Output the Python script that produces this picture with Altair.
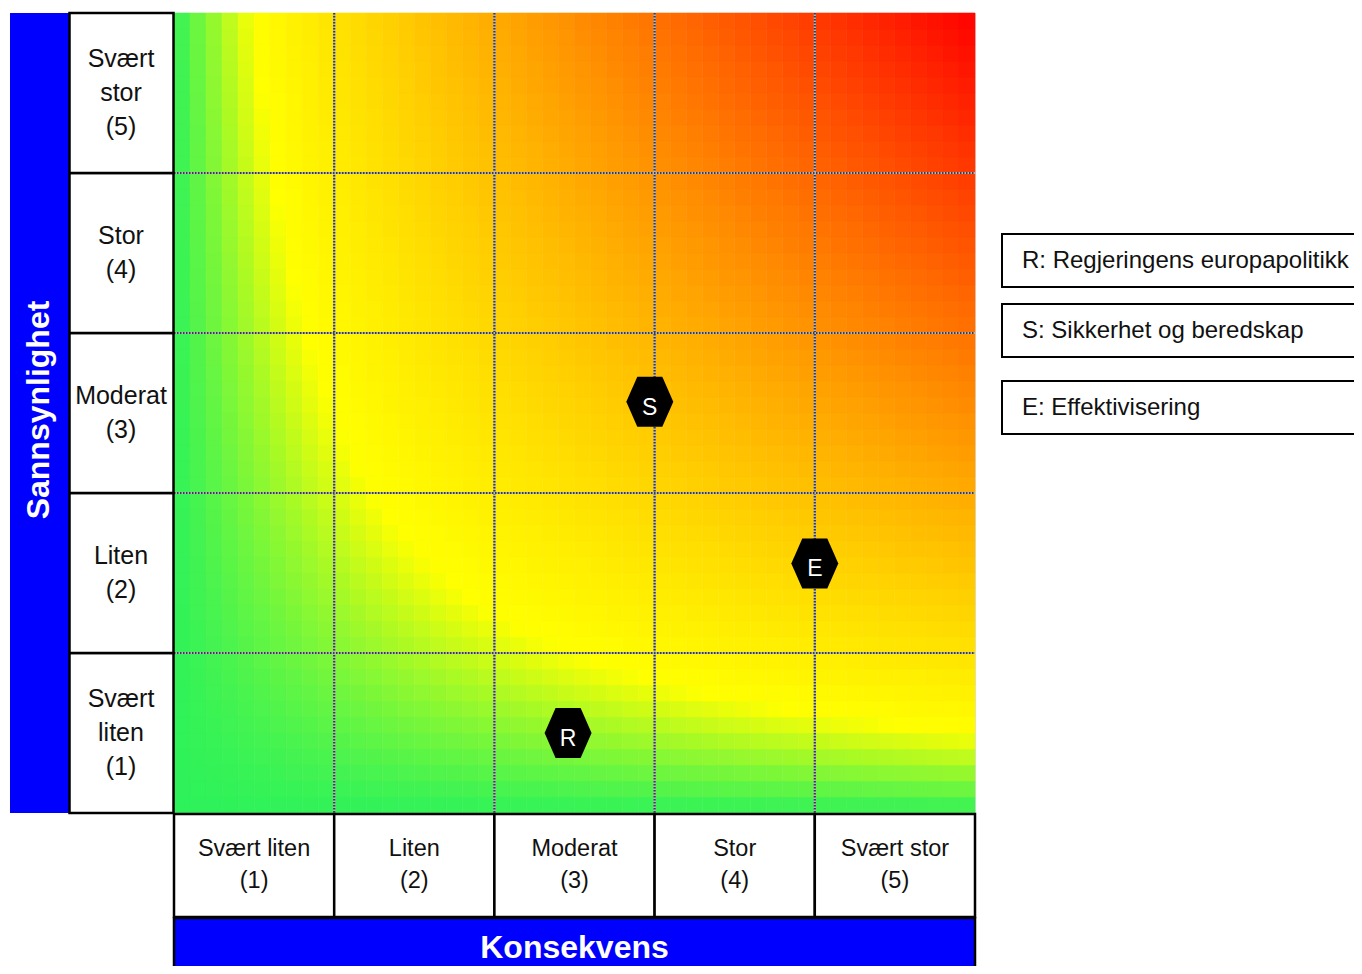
import altair as alt
import numpy as np
import pandas as pd

# ---------------- data ----------------
LEVELS = [1, 2, 3, 4, 5]
PROB_LABELS = ["Svært\nliten\n(1)", "Liten\n(2)", "Moderat\n(3)", "Stor\n(4)", "Svært\nstor\n(5)"]
CONS_LABELS = ["Svært liten\n(1)", "Liten\n(2)", "Moderat\n(3)", "Stor\n(4)", "Svært stor\n(5)"]

ITEM_CODES = ["R", "S", "E"]
ITEM_CONSEQUENCE = [2.46, 2.97, 4.00]
ITEM_PROBABILITY = [0.50, 2.57, 1.56]
ITEM_NAMES = ["R: Regjeringens europapolitikk", "S: Sikkerhet og beredskap", "E: Effektivisering"]

AXIS_X_TITLE = "Konsekvens"
AXIS_Y_TITLE = "Sannsynlighet"

# risk score background (consequence x probability), drawn as 50 x 50 blocks
STEPS = 50
edges = np.linspace(0, 5, STEPS + 1)
rows = []
for i in range(STEPS):
    for j in range(STEPS):
        cx = (edges[i] + edges[i + 1]) / 2
        cy = (edges[j] + edges[j + 1]) / 2
        rows.append({"x0": edges[i], "x1": edges[i + 1], "y0": edges[j], "y1": edges[j + 1],
                     "score": cx * cy})
bg = pd.DataFrame(rows)

# ---------------- layout (pixels, separate from data) ----------------
W, H = 801, 800
LEGEND_TOP = [221, 291, 368]
LEGEND_H = 53
FONT = "Liberation Sans"
LEFT_LH = 34
BOTTOM_LH = 32

xs = alt.Scale(domain=[0, 5], nice=False, zero=False)
ys = alt.Scale(domain=[0, 5], nice=False, zero=False)
color_scale = alt.Scale(domain=[0, 2.5, 25], range=["#2ef25a", "#ffff00", "#ff0000"], interpolate="rgb")

background = alt.Chart(bg).mark_rect(strokeWidth=0.6).encode(
    x=alt.X("x0:Q", scale=xs, axis=None),
    x2="x1:Q",
    y=alt.Y("y0:Q", scale=ys, axis=None),
    y2="y1:Q",
    fill=alt.Fill("score:Q", scale=color_scale, legend=None),
    stroke=alt.Stroke("score:Q", scale=color_scale, legend=None),
)

grid_df = pd.DataFrame({"v": LEVELS[:-1]})
GRID_BASE = dict(color="#b4b4c0", strokeWidth=2.2)
GRID_DASH = dict(color="#3a3a4a", strokeWidth=2.2, strokeDash=[1.5, 1.5])
vgrid_base = alt.Chart(grid_df).mark_rule(**GRID_BASE).encode(
    x=alt.X("v:Q", scale=xs, axis=None), y=alt.value(0), y2=alt.value(H))
vgrid_dash = alt.Chart(grid_df).mark_rule(**GRID_DASH).encode(
    x=alt.X("v:Q", scale=xs, axis=None), y=alt.value(0), y2=alt.value(H))
hgrid_base = alt.Chart(grid_df).mark_rule(**GRID_BASE).encode(
    y=alt.Y("v:Q", scale=ys, axis=None), x=alt.value(0), x2=alt.value(W))
hgrid_dash = alt.Chart(grid_df).mark_rule(**GRID_DASH).encode(
    y=alt.Y("v:Q", scale=ys, axis=None), x=alt.value(0), x2=alt.value(W))

cat_df = pd.DataFrame({"lvl": LEVELS, "lo": [l - 1 for l in LEVELS], "mid": [l - 0.5 for l in LEVELS],
                       "plabel": PROB_LABELS, "clabel": CONS_LABELS,
                       "pn": [s.count("\n") + 1 for s in PROB_LABELS],
                       "cn": [s.count("\n") + 1 for s in CONS_LABELS]})

# left side: blue title bar + probability boxes
left_bar = alt.Chart(pd.DataFrame({"t": [AXIS_Y_TITLE]})).mark_rect(fill="#0000ff").encode(
    x=alt.value(-164), x2=alt.value(-105), y=alt.value(0), y2=alt.value(H))
left_title = alt.Chart(pd.DataFrame({"t": [AXIS_Y_TITLE]})).mark_text(
    angle=270, font=FONT, fontSize=32, fontWeight="bold", color="white", baseline="middle", align="center"
).encode(x=alt.value(-135), y=alt.value(397), text="t:N")

left_boxes = alt.Chart(cat_df).mark_rect(fill="white", stroke="black", strokeWidth=2.5).encode(
    x=alt.value(-104.5), x2=alt.value(-0.5),
    y=alt.Y("lvl:Q", scale=ys, axis=None), y2="lo:Q")

left_text_layers = []
for n in sorted(cat_df["pn"].unique()):
    left_text_layers.append(
        alt.Chart(cat_df).transform_filter(alt.datum.pn == int(n)).mark_text(
            font=FONT, fontSize=25, lineHeight=LEFT_LH, lineBreak="\n", color="#111111",
            baseline="middle", align="center", dy=-(int(n) - 1) * LEFT_LH / 2
        ).encode(x=alt.value(-53), y=alt.Y("mid:Q", scale=ys, axis=None), text="plabel:N")
    )

# bottom: consequence boxes + blue title bar
bottom_boxes = alt.Chart(cat_df).mark_rect(fill="white", stroke="black", strokeWidth=2.5).encode(
    x=alt.X("lo:Q", scale=xs, axis=None), x2="lvl:Q",
    y=alt.value(801), y2=alt.value(904))
bottom_text_layers = []
for n in sorted(cat_df["cn"].unique()):
    bottom_text_layers.append(
        alt.Chart(cat_df).transform_filter(alt.datum.cn == int(n)).mark_text(
            font=FONT, fontSize=23.5, lineHeight=BOTTOM_LH, lineBreak="\n", color="#111111",
            baseline="middle", align="center", dy=-(int(n) - 1) * BOTTOM_LH / 2
        ).encode(x=alt.X("mid:Q", scale=xs, axis=None), y=alt.value(852), text="clabel:N")
    )

bottom_bar = alt.Chart(pd.DataFrame({"t": [AXIS_X_TITLE]})).mark_rect(
    fill="#0000ff", stroke="black", strokeWidth=2.5).encode(
    x=alt.value(0), x2=alt.value(W), y=alt.value(905), y2=alt.value(980))
bottom_title = alt.Chart(pd.DataFrame({"t": [AXIS_X_TITLE]})).mark_text(
    font=FONT, fontSize=32, fontWeight="bold", color="white", baseline="middle", align="center"
).encode(x=alt.value(W / 2), y=alt.value(935), text="t:N")

# legend boxes on the right
leg_df = pd.DataFrame({"name": ITEM_NAMES, "top": LEGEND_TOP,
                       "bot": [t + LEGEND_H for t in LEGEND_TOP],
                       "mid": [t + LEGEND_H / 2 for t in LEGEND_TOP]})
leg_boxes = alt.Chart(leg_df).mark_rect(fill="white", stroke="black", strokeWidth=2).encode(
    x=alt.value(828), x2=alt.value(1250),
    y=alt.Y("top:Q", scale=None), y2="bot:Q")
leg_text = alt.Chart(leg_df).mark_text(
    font=FONT, fontSize=24, color="#111111", baseline="middle", align="left"
).encode(x=alt.value(848), y=alt.Y("mid:Q", scale=None), text="name:N")

# items
items = pd.DataFrame({"code": ITEM_CODES, "cons": ITEM_CONSEQUENCE, "prob": ITEM_PROBABILITY})
HEX = "M-0.94,0L-0.5,-1L0.5,-1L0.94,0L0.5,1L-0.5,1Z"
hexes = alt.Chart(items).mark_point(shape=HEX, size=2500, filled=True, fill="black", opacity=1, strokeWidth=0).encode(
    x=alt.X("cons:Q", scale=xs, axis=None), y=alt.Y("prob:Q", scale=ys, axis=None))
hex_text = alt.Chart(items).mark_text(
    font=FONT, fontSize=23, color="white", baseline="middle", align="center", dy=6
).encode(x=alt.X("cons:Q", scale=xs, axis=None), y=alt.Y("prob:Q", scale=ys, axis=None), text="code:N")

chart = alt.layer(
    background, vgrid_base, vgrid_dash, hgrid_base, hgrid_dash,
    left_bar, left_title, left_boxes, *left_text_layers,
    bottom_boxes, *bottom_text_layers, bottom_bar, bottom_title,
    leg_boxes, leg_text, hexes, hex_text,
).properties(
    width=W, height=H,
    autosize=alt.AutoSizeParams(type="none"),
    padding={"left": 166, "top": 5, "right": 379, "bottom": 153},
).configure_view(stroke=None).configure(background="white")

chart.save("out.html", embed_options={"renderer": "svg", "actions": False})
